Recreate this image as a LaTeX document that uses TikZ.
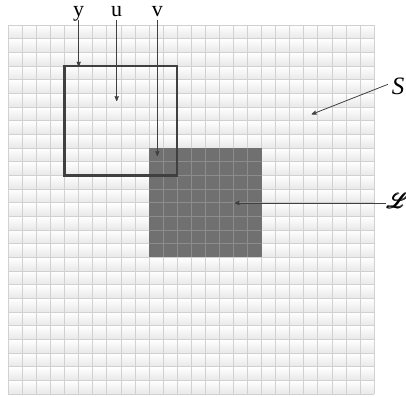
\documentclass[tikz,border=0pt]{standalone}
\usepackage{fontspec}
\setmainfont{Liberation Serif}
\usepackage{amsmath,amsfonts}
\usepackage{mathrsfs}
\usepackage{tikz}
\usetikzlibrary{positioning, calc}
\usetikzlibrary{arrows}

\begin{document}
\begin{tikzpicture}[x=1pt, y=-1pt, font=\fontsize{22}{22}\selectfont, >=stealth', line width=0.8pt]
        % Define colors
        \definecolor{cellline}{rgb}{0.82, 0.82, 0.82}
        \definecolor{cellshade}{rgb}{0.91, 0.91, 0.91}
        \definecolor{darkcell}{rgb}{0.44, 0.44, 0.44}
        \definecolor{darkline}{rgb}{0.55, 0.55, 0.55}
        \definecolor{boxline}{rgb}{0.25, 0.25, 0.25}
        \def\cw{14.07}
        \def\rh{13.67}

        \useasboundingbox (0,0) rectangle (406,396);

        % Grid
        \foreach \r in {0,...,26} {
            \shade[top color=white, bottom color=cellshade] (8.3, 25+\r*\rh) rectangle (374, 25+\r*\rh+\rh);
        }
        \foreach \c in {0,...,26} {
            \draw[cellline, line width=0.7pt] (8.3+\c*\cw, 25) -- (8.3+\c*\cw, 394);
        }
        \foreach \r in {0,...,27} {
            \draw[cellline, line width=0.7pt] (8.3, 25+\r*\rh) -- (374, 25+\r*\rh);
        }

        % Dark square
        \fill[darkcell] (8.3+10*\cw, 25+9*\rh) rectangle (8.3+18*\cw, 25+17*\rh);
        \foreach \c in {11,...,17} {
            \draw[darkline, line width=0.7pt] (8.3+\c*\cw, 25+9*\rh) -- (8.3+\c*\cw, 25+17*\rh);
        }
        \foreach \r in {10,...,16} {
            \draw[darkline, line width=0.7pt] (8.3+10*\cw, 25+\r*\rh) -- (8.3+18*\cw, 25+\r*\rh);
        }

        % Open square
        \draw[boxline, line width=2.3pt] (8.3+4*\cw, 25+3*\rh) rectangle (8.3+12*\cw, 25+11*\rh);

        % Nodes
        \node[inner sep=1pt, anchor=base] (y) at (78.7, 17) {y};
        \node[inner sep=1pt, anchor=base] (u) at (116.7, 17) {u};
        \node[inner sep=1pt, anchor=base] (v) at (157.3, 17) {v};
        \node[inner sep=1pt, font=\fontsize{25}{25}\selectfont] (S) at (398, 86) {\textit{S}};
        \node[inner sep=1pt] (L) at (398, 201) {$\pmb{\mathscr{L}}$};

        \coordinate (ytip) at (78.7, 66.5);
        \coordinate (utip) at (116.7, 101);
        \coordinate (vtip) at (157.3, 156);
        \coordinate (Stip) at (311.7, 114.3);
        \coordinate (Ltip) at (234.7, 203);

        % Edges
        \foreach \i in {y,u,v} {
            \draw[->, boxline] (\i.south |- 0,20) -- (\i tip);
        }
        \draw[->, boxline] (388, 84.3) -- (Stip);
        \draw[->, boxline] (L.west |- Ltip) -- (Ltip);
    \end{tikzpicture}
\end{document}
